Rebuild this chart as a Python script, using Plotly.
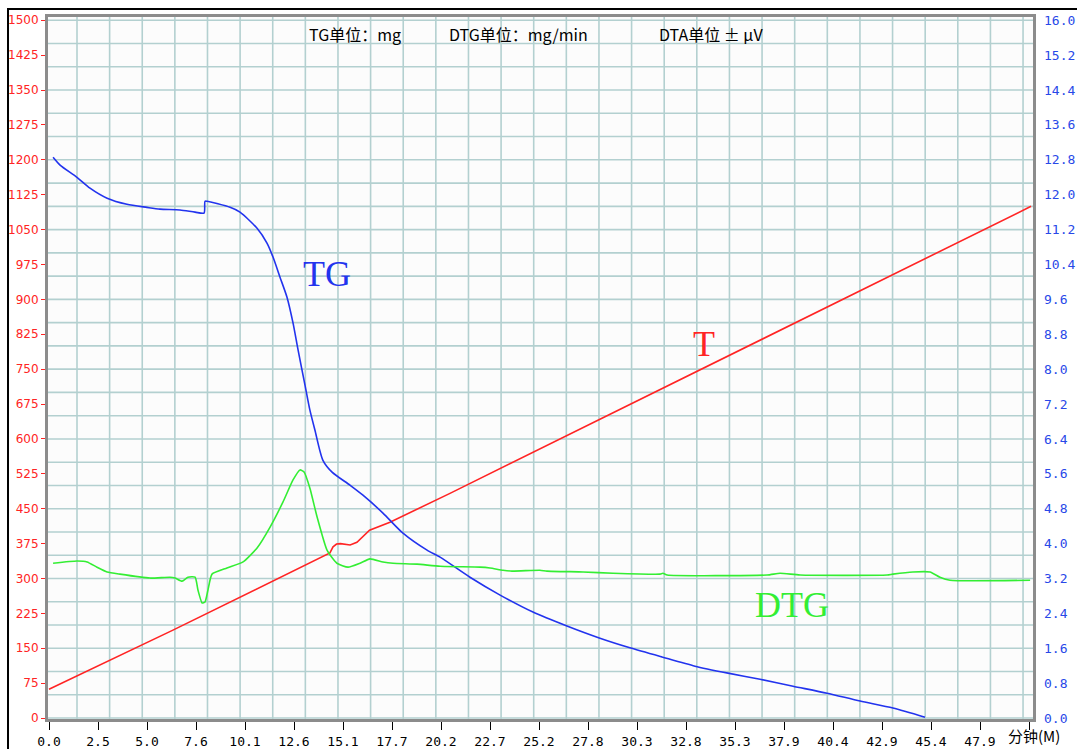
import plotly.graph_objects as go

# ---------------- data ----------------
# time axis (minutes)
x_tick_labels = ["0.0", "2.5", "5.0", "7.6", "10.1", "12.6", "15.1", "17.7", "20.2", "22.7",
                 "25.2", "27.8", "30.3", "32.8", "35.3", "37.9", "40.4", "42.9", "45.4", "47.9", ""]
x_tick_step = 2.5222

left_ticks = list(range(0, 1501, 75))            # temperature scale (red)
right_ticks = [round(0.8 * i, 1) for i in range(21)]  # TG / DTG scale (blue)

# T curve (left axis)
t_time = [0.0, 6.38, 14.46, 14.62, 14.80, 15.00, 15.50, 15.85, 16.50, 17.00, 17.55, 20.64, 50.55]
t_val = [62, 189, 355, 368, 374, 375, 372, 378, 404, 412, 421, 483, 1100]

# TG curve (right axis)
tg_time = [0.21, 0.57, 1.44, 2.11, 2.99, 4.01, 5.04, 5.71, 6.74, 7.52, 7.98, 8.03, 8.13,
           9.32, 9.83, 10.71, 11.22, 11.53, 11.89, 12.25, 12.56, 12.82, 13.18, 13.43, 13.69,
           14.10, 14.57, 15.49, 16.16, 17.19, 18.22, 19.46, 20.13, 21.67, 23.22, 24.91, 26.66,
           28.36, 29.90, 31.55, 33.25, 34.95, 36.60, 38.30, 40.05, 41.75, 43.44, 45.09]
tg_val = [12.86, 12.68, 12.40, 12.15, 11.92, 11.78, 11.71, 11.67, 11.65, 11.60, 11.58, 11.85, 11.85,
          11.71, 11.60, 11.23, 10.89, 10.57, 10.11, 9.65, 9.06, 8.44, 7.63, 7.06, 6.60,
          5.91, 5.64, 5.34, 5.11, 4.70, 4.24, 3.85, 3.69, 3.23, 2.82, 2.43, 2.11,
          1.83, 1.61, 1.40, 1.19, 1.03, 0.89, 0.73, 0.57, 0.39, 0.23, 0.02]

# DTG curve (right axis)
dtg_time = [0.21, 1.44, 1.96, 2.47, 2.99, 3.65, 5.20, 6.23, 6.49, 6.85, 7.15, 7.52, 7.67, 7.88,
            8.03, 8.18, 8.39, 9.16, 9.99, 10.71, 11.38, 12.04, 12.56, 12.92, 13.13, 13.43, 13.80,
            14.31, 14.82, 15.39, 16.01, 16.52, 17.19, 17.71, 18.94, 20.13, 22.18, 22.70, 23.37,
            23.83, 25.27, 25.63, 27.49, 29.03, 31.45, 31.60, 31.82, 36.96, 37.63, 38.66, 43.14,
            43.44, 44.47, 45.35, 45.86, 46.38, 50.50]
dtg_val = [3.55, 3.60, 3.58, 3.46, 3.35, 3.30, 3.21, 3.23, 3.21, 3.14, 3.23, 3.23, 2.93, 2.64,
           2.66, 2.93, 3.30, 3.44, 3.58, 3.90, 4.38, 4.95, 5.46, 5.69, 5.64, 5.27, 4.61,
           3.85, 3.55, 3.46, 3.55, 3.65, 3.58, 3.55, 3.53, 3.48, 3.46, 3.44, 3.39,
           3.37, 3.39, 3.37, 3.35, 3.32, 3.30, 3.32, 3.28, 3.28, 3.32, 3.28, 3.28,
           3.30, 3.35, 3.35, 3.23, 3.16, 3.16]

# ---------------- styling / layout ----------------
X_RANGE = [-0.0515, 50.65]
Y_LEFT_RANGE = [-2, 1507]
Y_RIGHT_RANGE = [Y_LEFT_RANGE[0] / 93.75, Y_LEFT_RANGE[1] / 93.75]
GRID_COLOR = "#b3d0d0"
grid_x = [1.441 + k * 1.6792 for k in range(30)]
grid_y = list(range(0, 1501, 50))

RED = "#ff2424"
BLUE = "#2233ee"
GREEN = "#33ee33"

fig = go.Figure()
fig.add_trace(go.Scatter(x=t_time, y=t_val, xaxis="x", yaxis="y", mode="lines",
                         line=dict(color=RED, width=1.6), hoverinfo="skip"))
fig.add_trace(go.Scatter(x=tg_time, y=tg_val, xaxis="x", yaxis="y2", mode="lines",
                         line=dict(color=BLUE, width=1.6, shape="spline", smoothing=0.7),
                         hoverinfo="skip"))
fig.add_trace(go.Scatter(x=dtg_time, y=dtg_val, xaxis="x", yaxis="y2", mode="lines",
                         line=dict(color=GREEN, width=1.6, shape="spline", smoothing=0.5),
                         hoverinfo="skip"))

# background grid (30 x 30 cells, independent from the tick marks)
for gx in grid_x:
    fig.add_shape(type="line", xref="x", yref="paper", x0=gx, x1=gx, y0=0, y1=1,
                  line=dict(color=GRID_COLOR, width=1.6), layer="below")
for gy in grid_y:
    fig.add_shape(type="line", xref="paper", yref="y", x0=0, x1=1, y0=gy, y1=gy,
                  line=dict(color=GRID_COLOR, width=1.6), layer="below")

fig.update_layout(
    width=1077, height=749,
    margin=dict(l=48, r=44, t=17, b=30, autoexpand=False),
    paper_bgcolor="white", plot_bgcolor="#fcfcfc",
    showlegend=False,
    xaxis=dict(range=X_RANGE, automargin=False,
               tickvals=[i * x_tick_step for i in range(len(x_tick_labels))],
               ticktext=x_tick_labels, ticks="outside", ticklen=8, tickcolor="black",
               tickwidth=1, showgrid=False, zeroline=False,
               showline=True, mirror=True, linecolor="#8c8c8c", linewidth=3,
               tickfont=dict(family="DejaVu Sans Mono", size=13, color="black")),
    yaxis=dict(range=Y_LEFT_RANGE, automargin=False, side="left",
               tickvals=left_ticks, ticks="outside", ticklen=4, tickcolor=RED, tickwidth=1,
               showgrid=False, zeroline=False,
               showline=True, mirror=True, linecolor="#8c8c8c", linewidth=3,
               tickfont=dict(family="DejaVu Sans", size=12, color=RED)),
    yaxis2=dict(overlaying="y", anchor="x", side="right", range=Y_RIGHT_RANGE, automargin=False,
                tickvals=right_ticks, ticktext=[f"{v:.1f}" for v in right_ticks],
                ticks="", ticklabelstandoff=10,
                showgrid=False, zeroline=False, showline=False,
                tickfont=dict(family="DejaVu Sans Mono", size=13, color="#2848e8")),
)

# header texts
header = [("TG单位：mg", 0.2629), ("DTG单位：mg/min", 0.4051), ("DTA单位 ± μV", 0.6183)]
for txt, xp in header:
    fig.add_annotation(text=txt, x=xp, y=0.9758, xref="paper", yref="paper",
                       xanchor="left", yanchor="middle", showarrow=False,
                       font=dict(family="Noto Sans CJK SC", size=16, color="black"))

# curve labels
labels = [("TG", 0.2832, 0.6339, BLUE), ("T", 0.666, 0.5342, RED), ("DTG", 0.7553, 0.1624, GREEN)]
for txt, xp, yp, col in labels:
    fig.add_annotation(text=txt, x=xp, y=yp, xref="paper", yref="paper",
                       xanchor="center", yanchor="middle", showarrow=False,
                       font=dict(family="Liberation Serif", size=36, color=col))

fig.add_annotation(text="分钟(M)", x=1.001, y=-0.0242, xref="paper", yref="paper",
                   xanchor="center", yanchor="middle", showarrow=False,
                   font=dict(family="Noto Sans CJK SC", size=15, color="black"))

# outer black border of the picture
fig.add_shape(type="rect", xref="paper", yref="paper",
              x0=-0.0406, x1=1.06, y0=-0.1, y1=1.0114,
              line=dict(color="black", width=2), fillcolor="rgba(0,0,0,0)", layer="below")

fig.write_html("out.html")
